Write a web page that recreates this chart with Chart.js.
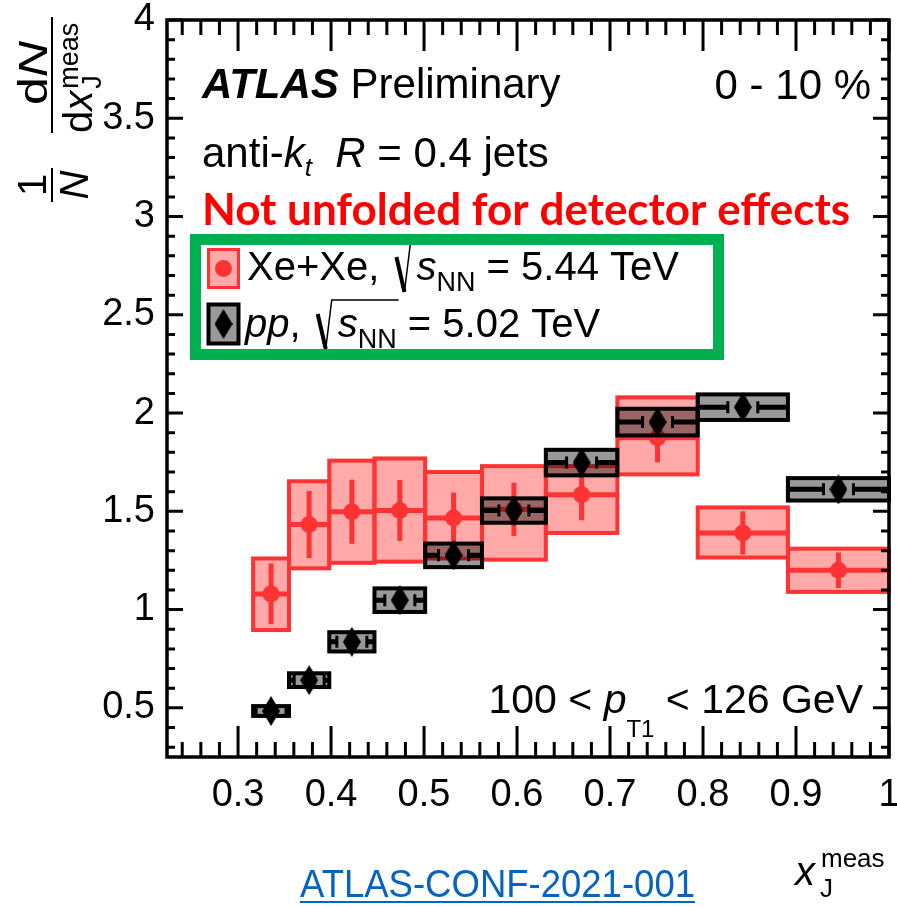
<!DOCTYPE html>
<html>
<head>
<meta charset="utf-8">
<script src="https://cdn.jsdelivr.net/npm/chart.js@4.4.0/dist/chart.umd.min.js"></script>
<style>
  html, body { margin: 0; padding: 0; background: #fff; }
  #xj { display: block; }
</style>
</head>
<body>
<canvas id="xj" width="897" height="907"></canvas>
<script>
// x_J bin edges (log spaced), shared by both systems
var binEdges = [0.3162, 0.3548, 0.3981, 0.4467, 0.5012, 0.5623, 0.6310, 0.7079, 0.7943, 0.8913, 1.0];

// Xe+Xe, 0-10 %
var xeValues  = [1.08, 1.433, 1.498, 1.504, 1.466, 1.51, 1.585, 1.875, 1.39, 1.20];
var xeStat    = [0.155, 0.17, 0.163, 0.155, 0.13, 0.135, 0.13, 0.125, 0.11, 0.09];
var xeSysUp   = [0.18, 0.22, 0.26, 0.265, 0.234, 0.22, 0.145, 0.205, 0.13, 0.11];
var xeSysDown = [0.184, 0.223, 0.26, 0.26, 0.206, 0.256, 0.195, 0.187, 0.125, 0.11];

// pp reference
var ppValues = [0.484, 0.641, 0.836, 1.048, 1.276, 1.504, 1.748, 1.954, 2.03, 1.612];
var ppSys    = [0.025, 0.035, 0.049, 0.06, 0.06, 0.062, 0.065, 0.068, 0.065, 0.057];

var xTicks = [0.3, 0.4, 0.5, 0.6, 0.7, 0.8, 0.9, 1.0];
var xTickLabels = ['0.3', '0.4', '0.5', '0.6', '0.7', '0.8', '0.9', '1'];
var yTicks = [0.5, 1, 1.5, 2, 2.5, 3, 3.5, 4];
var yTickLabels = ['0.5', '1', '1.5', '2', '2.5', '3', '3.5', '4'];

var FONT = '"Liberation Sans", Arial, Helvetica, sans-serif';
var XE_RED = '#ff3333';
var XE_FILL = 'rgba(255,51,51,0.42)';
var PP_FILL = 'rgba(0,0,0,0.4)';

function binCenters() {
    var c = [];
    for (var i = 0; i < binEdges.length - 1; i++) c.push((binEdges[i] + binEdges[i + 1]) / 2);
    return c;
}
var centers = binCenters();

// tall diamond marker used for pp
function makeDiamond(w, h) {
    var c = document.createElement('canvas');
    c.width = w; c.height = h;
    var g = c.getContext('2d');
    g.fillStyle = '#000';
    g.beginPath();
    g.moveTo(w / 2, 0); g.lineTo(w, h / 2); g.lineTo(w / 2, h); g.lineTo(0, h / 2);
    g.closePath(); g.fill();
    return c;
}
var diamond = makeDiamond(18, 30);

function drawXe(chart) {
    var xs = chart.scales.x, ys = chart.scales.y, ctx = chart.ctx;
    ctx.save();
    for (var i = 0; i < xeValues.length; i++) {
        var x0 = xs.getPixelForValue(binEdges[i]), x1 = xs.getPixelForValue(binEdges[i + 1]);
        var yt = ys.getPixelForValue(xeValues[i] + xeSysUp[i]);
        var yb = ys.getPixelForValue(xeValues[i] - xeSysDown[i]);
        ctx.fillStyle = XE_FILL;
        ctx.fillRect(x0, yt, x1 - x0, yb - yt);
        ctx.strokeStyle = XE_RED;
        ctx.lineWidth = 4;
        ctx.strokeRect(x0, yt, x1 - x0, yb - yt);
    }
    ctx.strokeStyle = XE_RED;
    ctx.lineWidth = 5;
    for (var j = 0; j < xeValues.length; j++) {
        var a = xs.getPixelForValue(binEdges[j]), b = xs.getPixelForValue(binEdges[j + 1]);
        var cx = xs.getPixelForValue(centers[j]);
        var yv = ys.getPixelForValue(xeValues[j]);
        ctx.beginPath();
        ctx.moveTo(a, yv); ctx.lineTo(b, yv);
        ctx.moveTo(cx, ys.getPixelForValue(xeValues[j] + xeStat[j]));
        ctx.lineTo(cx, ys.getPixelForValue(xeValues[j] - xeStat[j]));
        ctx.stroke();
    }
    ctx.restore();
}

function drawPP(chart) {
    var xs = chart.scales.x, ys = chart.scales.y, ctx = chart.ctx;
    ctx.save();
    for (var i = 0; i < ppValues.length; i++) {
        var x0 = xs.getPixelForValue(binEdges[i]), x1 = xs.getPixelForValue(binEdges[i + 1]);
        var cx = xs.getPixelForValue(centers[i]);
        var yv = ys.getPixelForValue(ppValues[i]);
        var yt = ys.getPixelForValue(ppValues[i] + ppSys[i]);
        var yb = ys.getPixelForValue(ppValues[i] - ppSys[i]);
        ctx.fillStyle = PP_FILL;
        ctx.fillRect(x0, yt, x1 - x0, yb - yt);
        ctx.strokeStyle = '#000';
        ctx.lineWidth = 4;
        ctx.strokeRect(x0, yt, x1 - x0, yb - yt);
        // x error bar, broken around the marker
        ctx.lineWidth = 5;
        ctx.beginPath();
        ctx.moveTo(x0, yv); ctx.lineTo(cx - 15, yv);
        ctx.moveTo(cx + 15, yv); ctx.lineTo(x1, yv);
        ctx.stroke();
        ctx.lineWidth = 3;
        ctx.beginPath();
        ctx.moveTo(cx - 15, yv - 6); ctx.lineTo(cx - 15, yv + 6);
        ctx.moveTo(cx + 15, yv - 6); ctx.lineTo(cx + 15, yv + 6);
        ctx.stroke();
    }
    ctx.restore();
}

// draws a run of [text, font, dy] pieces on one baseline, returns end x
function rich(ctx, x, y, parts, align) {
    var w = 0, i;
    for (i = 0; i < parts.length; i++) { ctx.font = parts[i][1]; w += ctx.measureText(parts[i][0]).width; }
    var cx = x;
    if (align === 'right') cx = x - w;
    if (align === 'center') cx = x - w / 2;
    ctx.textAlign = 'left';
    for (i = 0; i < parts.length; i++) {
        ctx.font = parts[i][1];
        ctx.fillText(parts[i][0], cx, y + (parts[i][2] || 0));
        cx += ctx.measureText(parts[i][0]).width;
    }
    return cx;
}

function radical(ctx, x, base, overEnd) {
    ctx.save();
    ctx.strokeStyle = '#000';
    ctx.lineCap = 'butt';
    ctx.lineWidth = 4;
    ctx.beginPath(); ctx.moveTo(x + 6, base - 23); ctx.lineTo(x + 14, base + 12); ctx.stroke();
    ctx.lineWidth = 1.5;
    ctx.beginPath(); ctx.moveTo(x + 14, base + 12); ctx.lineTo(x + 20, base - 37); ctx.lineTo(overEnd, base - 37); ctx.stroke();
    ctx.restore();
}

function legendEntry(ctx, x, base, lead, energy) {
    var R = '40px ' + FONT, I = 'italic 40px ' + FONT, S = '27px ' + FONT;
    var cx = rich(ctx, x, base, lead);
    var sx = cx + 26;
    var nnEnd = rich(ctx, sx, base, [['s', I], ['NN', S, 11]]);
    rich(ctx, nnEnd, base, [[' = ' + energy + ' TeV', R]]);
    radical(ctx, cx, base, nnEnd + 2);
}

function drawFrame(chart) {
    var a = chart.chartArea, xs = chart.scales.x, ys = chart.scales.y, ctx = chart.ctx;
    ctx.save();
    ctx.strokeStyle = '#000';
    ctx.lineWidth = 3;
    ctx.beginPath();
    var k, p, len;
    for (k = 12; k <= 50; k++) {
        p = xs.getPixelForValue(k * 0.02);
        len = k % 5 === 0 ? 31 : 15;
        ctx.moveTo(p, a.bottom); ctx.lineTo(p, a.bottom - len);
        ctx.moveTo(p, a.top); ctx.lineTo(p, a.top + len);
    }
    for (k = 3; k <= 40; k++) {
        p = ys.getPixelForValue(k / 10);
        len = k % 5 === 0 ? 16 : 8;
        ctx.moveTo(a.left, p); ctx.lineTo(a.left + len, p);
        ctx.moveTo(a.right, p); ctx.lineTo(a.right - len, p);
    }
    ctx.stroke();
    ctx.lineWidth = 3.5;
    ctx.strokeRect(a.left, a.top, a.right - a.left, a.bottom - a.top);
    ctx.restore();
}

function drawYTitle(ctx) {
    var R = '40px ' + FONT, I = 'italic 40px ' + FONT, S = '27px ' + FONT;
    // 1/N ; in the rotated frame +x runs up the page, +y to the right
    ctx.save();
    ctx.translate(52, 185);
    ctx.rotate(-Math.PI / 2);
    ctx.textAlign = 'center';
    ctx.font = R; ctx.fillText('1', 0, -6);
    ctx.font = I; ctx.fillText('N', 0, 36);
    ctx.fillRect(-17, -1, 34, 2);
    ctx.restore();

    // dN / dx_J^meas
    ctx.save();
    ctx.translate(52, 75);
    ctx.rotate(-Math.PI / 2);
    ctx.fillRect(-58, -1, 116, 2);
    ctx.save();
    ctx.translate(2, 0);
    ctx.scale(1.25, 1);
    rich(ctx, 0, -5, [['d', R], ['N', I]], 'center');
    ctx.restore();
    ctx.font = R;
    var dw = ctx.measureText('d').width;
    ctx.font = I;
    var xw = ctx.measureText('x').width;
    var start = -58;
    ctx.textAlign = 'left';
    ctx.font = R; ctx.fillText('d', start, 40);
    ctx.font = I; ctx.fillText('x', start + dw, 40);
    ctx.font = S;
    ctx.fillText('meas', start + dw + xw + 2, 26);
    ctx.fillText('J', start + dw + xw + 2, 49);
    ctx.restore();
}

function drawText(chart) {
    var a = chart.chartArea, ctx = chart.ctx;
    var R = '42px ' + FONT, I = 'italic 42px ' + FONT;
    ctx.save();
    ctx.fillStyle = '#000';
    ctx.textBaseline = 'alphabetic';

    rich(ctx, a.left + 35, a.top + 78, [['ATLAS', 'italic bold 42px ' + FONT], [' Preliminary', R]]);
    rich(ctx, a.right - 18, a.top + 79, [['0 - 10 %', R]], 'right');
    rich(ctx, a.left + 35, a.top + 147, [['anti-', R], ['k', I], ['t', 'italic 26px ' + FONT, 9], ['  ', R], ['R', I], [' = 0.4 jets', R]]);

    ctx.fillStyle = '#ff0000';
    ctx.font = 'bold 44px Lato, "Open Sans", ' + FONT;
    ctx.textAlign = 'left';
    ctx.fillText('Not unfolded for detector effects', a.left + 35, a.top + 205, 650);

    // legend
    ctx.fillStyle = '#000';
    legendEntry(ctx, a.left + 80, a.top + 260, [['Xe+Xe, ', '40px ' + FONT]], '5.44');
    legendEntry(ctx, a.left + 78, a.top + 317, [['pp', 'italic 40px ' + FONT], [', ', '40px ' + FONT]], '5.02');

    ctx.fillStyle = XE_FILL;
    ctx.fillRect(a.left + 41.5, a.top + 229.5, 30, 38);
    ctx.strokeStyle = XE_RED; ctx.lineWidth = 3;
    ctx.strokeRect(a.left + 41.5, a.top + 229.5, 30, 38);
    ctx.fillStyle = XE_RED;
    ctx.beginPath(); ctx.arc(a.left + 56.5, a.top + 248.5, 8.5, 0, Math.PI * 2); ctx.fill();

    ctx.fillStyle = PP_FILL;
    ctx.fillRect(a.left + 41.5, a.top + 284.5, 30, 39);
    ctx.strokeStyle = '#000'; ctx.lineWidth = 4;
    ctx.strokeRect(a.left + 41.5, a.top + 284.5, 30, 39);
    ctx.drawImage(diamond, a.left + 56.5 - 9, a.top + 304 - 15);

    ctx.strokeStyle = '#00b050';
    ctx.lineWidth = 11;
    ctx.strokeRect(a.left + 28.5, a.top + 219.5, 523, 115);

    // pT range
    ctx.fillStyle = '#000';
    var R41 = '41px ' + FONT;
    rich(ctx, a.right - 26, a.top + 693, [['100 < ', R41], ['p', 'italic 41px ' + FONT], ['T1', '24px ' + FONT, 24], [' < 126 GeV', R41]], 'right');

    // x axis title
    ctx.font = 'italic 40px ' + FONT;
    ctx.fillText('x', 795, 885);
    ctx.font = '26px ' + FONT;
    ctx.fillText('meas', 821, 867);
    ctx.fillText('J', 820, 897);

    drawYTitle(ctx);

    // conference note reference
    ctx.fillStyle = '#0563c1';
    ctx.font = '38px ' + FONT;
    ctx.fillText('ATLAS-CONF-2021-001', 300, 897, 395);
    ctx.fillRect(300, 901, 395, 2);
    ctx.restore();
}

var atlasPlugin = {
    id: 'atlasDecor',
    beforeDatasetDraw: function (chart, args) {
        if (args.index === 0) drawXe(chart);
        if (args.index === 1) drawPP(chart);
    },
    afterDraw: function (chart) {
        drawFrame(chart);
        drawText(chart);
    }
};

function noPad(s) {
    s.paddingLeft = 0; s.paddingRight = 0; s.paddingTop = 0; s.paddingBottom = 0;
}

var ctx = document.getElementById('xj').getContext('2d');
var chart = new Chart(ctx, {
    type: 'scatter',
    data: {
        datasets: [{
            label: 'Xe+Xe',
            data: centers.map(function (c, i) { return { x: c, y: xeValues[i] }; }),
            pointStyle: 'circle',
            pointRadius: 8.5,
            pointBackgroundColor: XE_RED,
            pointBorderWidth: 0,
            order: 2
        }, {
            label: 'pp',
            data: centers.map(function (c, i) { return { x: c, y: ppValues[i] }; }),
            pointStyle: diamond,
            pointRadius: 9,
            order: 1
        }]
    },
    options: {
        responsive: false,
        animation: false,
        events: [],
        layout: { autoPadding: false, padding: { top: 20, right: 8, left: 0, bottom: 0 } },
        plugins: { legend: { display: false }, tooltip: { enabled: false } },
        scales: {
            x: {
                type: 'linear', min: 0.2236, max: 1.0,
                afterBuildTicks: function (s) { s.ticks = xTicks.map(function (v) { return { value: v }; }); },
                afterFit: function (s) { s.height = 150; noPad(s); },
                grid: { display: false, drawTicks: false },
                border: { display: false },
                ticks: {
                    autoSkip: false, maxRotation: 0, padding: 16, color: '#000',
                    font: { family: FONT, size: 38 },
                    callback: function (v, i) { return xTickLabels[i]; }
                }
            },
            y: {
                type: 'linear', min: 0.25, max: 4,
                afterBuildTicks: function (s) { s.ticks = yTicks.map(function (v) { return { value: v }; }); },
                afterFit: function (s) { s.width = 167; noPad(s); },
                grid: { display: false, drawTicks: false },
                border: { display: false },
                ticks: {
                    autoSkip: false, padding: 12, color: '#000',
                    font: { family: FONT, size: 38 },
                    callback: function (v, i) { return yTickLabels[i]; }
                }
            }
        }
    },
    plugins: [atlasPlugin]
});
</script>
</body>
</html>
